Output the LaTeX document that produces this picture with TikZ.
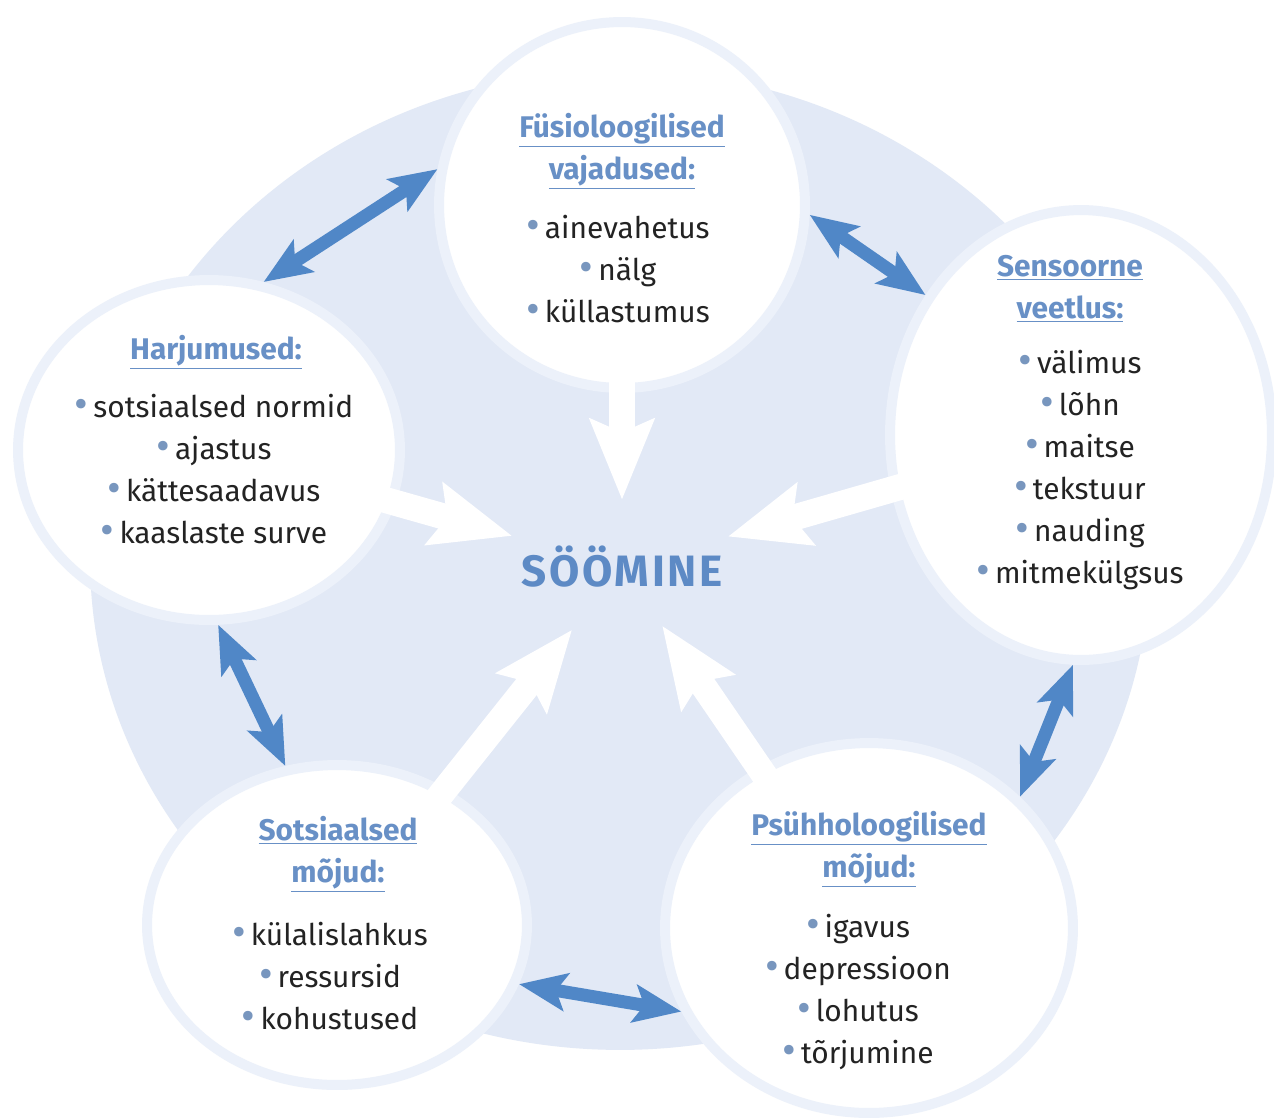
\documentclass[tikz,border=0pt]{standalone}
\usepackage{fontspec}
\setmainfont{Fira Sans}
\usepackage{tikz}
\usetikzlibrary{arrows.meta,shapes.geometric,positioning}

\definecolor{bgblue}{RGB}{226,233,246}
\definecolor{haloblue}{RGB}{236,241,250}
\definecolor{arrblue}{RGB}{80,135,199}
\definecolor{headblue}{RGB}{104,144,198}
\definecolor{eatblue}{RGB}{93,138,197}
\definecolor{dotblue}{RGB}{120,150,190}
\definecolor{txtgray}{RGB}{35,35,35}

\newcommand\itmdot{\textcolor{dotblue}{\raisebox{-0.5pt}{\fontsize{24}{24}\selectfont\textbullet}}\,}
\newcommand\hdline[1]{\underline{#1}}

\begin{document}
\begin{tikzpicture}[x=0.02cm, y=-0.02cm, every node/.style={inner sep=0pt},
    bubble/.style={ellipse, fill=white, draw=haloblue, line width=2mm},
    head/.style={align=center, text=headblue, font=\fontsize{17}{23.9}\selectfont\bfseries},
    items/.style={align=center, text=txtgray, font=\fontsize{17}{23.9}\selectfont},
    barrow/.style={draw=arrblue, line width=2.6mm, >={Stealth[length=9.5mm,width=7.5mm,inset=2mm]}, <->},
    warrow/.style={draw=white, line width=5.2mm, -{Stealth[length=16mm,width=12.5mm,inset=2.5mm]}, shorten <=-3mm}
  ]

    \useasboundingbox (0,0) rectangle (1274,1117);
    \fill[white] (0,0) rectangle (1274,1117);

    % Background disc.
    \fill[bgblue] (620,560) ellipse [x radius=10.6cm, y radius=9.8cm];

    % The five bubbles.
    \node[bubble, minimum width=7.32cm, minimum height=7.32cm] (fys) at (622,205) {};
    \node[bubble, minimum width=7.64cm, minimum height=6.8cm] (har) at (209,450) {};
    \node[bubble, minimum width=7.64cm, minimum height=9cm] (sen) at (1081,435) {};
    \node[bubble, minimum width=7.6cm, minimum height=6.4cm] (sot) at (337,925) {};
    \node[bubble, minimum width=8.16cm, minimum height=7.4cm] (psy) at (869,928) {};

    \node[text=eatblue, font=\fontsize{25}{30}\selectfont\bfseries\addfontfeatures{LetterSpace=6}] (eat) at (622,567) {SÖÖMINE};

    % Texts in the bubbles.
    \node[head] (fysH) at (622,151) {\hdline{Füsioloogilised}\\ \hdline{vajadused:}};
    \node[items] (fysL) at (618,269) {\itmdot ainevahetus\\ \itmdot nälg\\ \itmdot küllastumus};

    \node[head] (harH) at (216,352) {\hdline{Harjumused:}};
    \node[items] (harL) at (214,469) {\itmdot sotsiaalsed normid\\ \itmdot ajastus\\
        \itmdot kättesaadavus\\ \itmdot kaaslaste surve};

    \node[head] (senH) at (1070,289) {\hdline{Sensoorne}\\ \hdline{veetlus:}};
    \node[items] (senL) at (1080,470) {\itmdot välimus\\ \itmdot lõhn\\ \itmdot maitse\\
        \itmdot tekstuur\\ \itmdot nauding\\ \itmdot mitmekülgsus};

    \node[head] (sotH) at (338,854) {\hdline{Sotsiaalsed}\\ \hdline{mõjud:}};
    \node[items] (sotL) at (330,976) {\itmdot külalislahkus\\ \itmdot ressursid\\ \itmdot kohustused};

    \node[head] (psyH) at (869,849) {\hdline{Psühholoogilised}\\ \hdline{mõjud:}};
    \node[items] (psyL) at (858,992) {\itmdot igavus\\ \itmdot depressioon\\ \itmdot lohutus\\ \itmdot tõrjumine};

    % White arrows into the middle.
    \draw[warrow, shorten >=13.4mm] (fys) -- (eat.center);
    \draw[warrow, shorten >=22.8mm] (har) -- (eat.center);
    \draw[warrow, shorten >=22mm] (sen) -- (eat.center);
    \draw[warrow, shorten >=16mm] (sot) -- (eat.center);
    \draw[warrow, shorten >=14.2mm] (psy) -- (eat.center);

    % Blue arrows round the ring.
    \draw[barrow] (har.72) -- (fys.169);
    \draw[barrow] (fys.-3) -- (sen.138);
    \draw[barrow] (sen.268) -- (psy.41);
    \draw[barrow] (psy.204) -- (sot.342);
    \draw[barrow] (sot.108) -- (har.273);

\end{tikzpicture}
\end{document}
